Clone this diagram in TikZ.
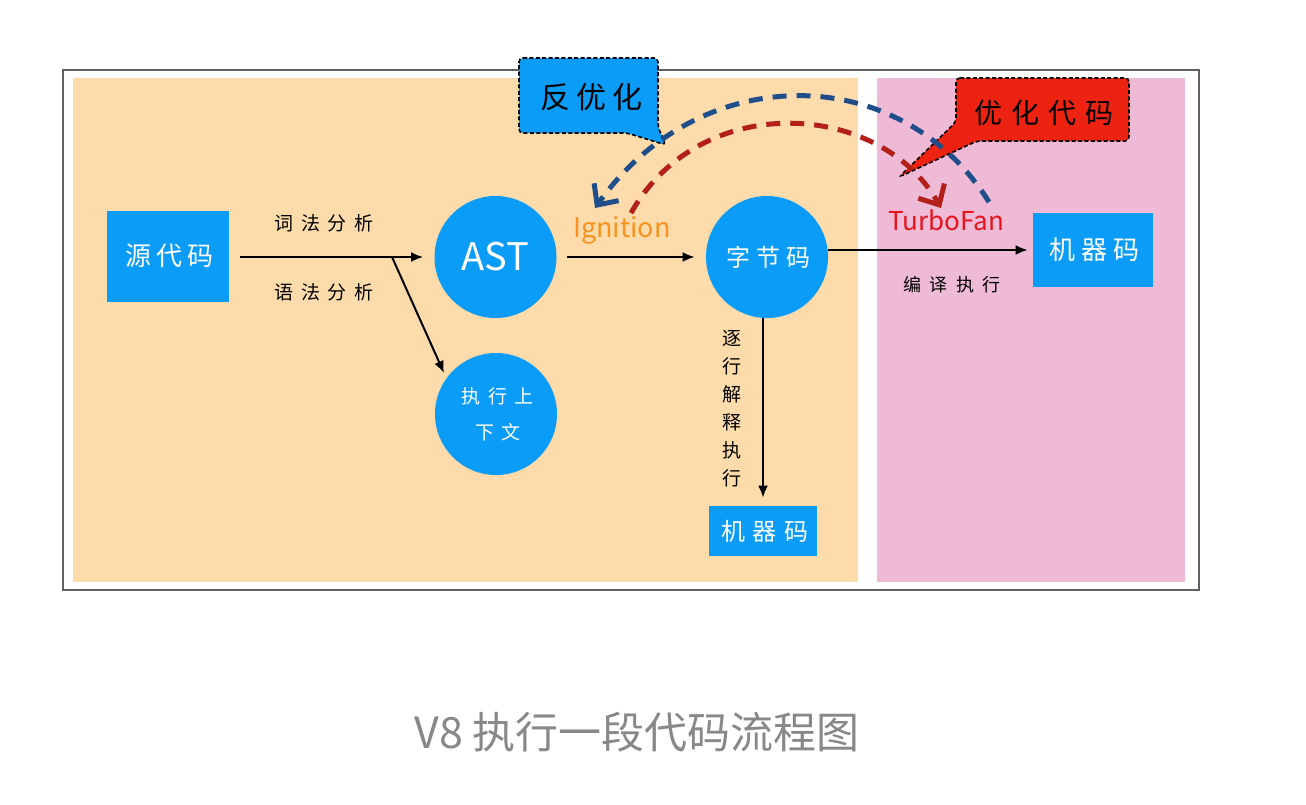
\documentclass[tikz,border=0pt]{standalone}
\usepackage{fontspec}
\setmainfont{Noto Sans CJK SC}
\usetikzlibrary{arrows.meta}
\definecolor{orangebg}{HTML}{FDDBAB}
\definecolor{pinkbg}{HTML}{EEBAD6}
\definecolor{nodeblue}{HTML}{0B9CF7}
\definecolor{ignorange}{HTML}{F7931E}
\definecolor{turbored}{HTML}{E8141C}
\definecolor{calloutred}{HTML}{EE2211}
\definecolor{deoptblue}{HTML}{1F4E8A}
\definecolor{optred}{HTML}{B3201A}
\definecolor{captiongray}{HTML}{888888}
\begin{document}
\begin{tikzpicture}[x=0.5pt,y=-0.5pt,
  boxnode/.style={fill=nodeblue, text=white, inner sep=0pt},
  circnode/.style={circle, fill=nodeblue, text=white, minimum size=61pt, inner sep=0pt, align=center},
  lbl/.style={font=\fontsize{9.5pt}{11pt}\selectfont\addfontfeature{LetterSpace=40}, inner sep=0pt},
  flow/.style={line width=1pt, -{Latex[length=6pt,width=5pt]}},
  curvy/.style={line width=2.5pt, dash pattern=on 7pt off 5pt, -{Straight Barb[length=8pt,width=15pt]}},
  callout/.style={draw=black, line width=0.8pt, dash pattern=on 2pt off 1.2pt, rounded corners=2pt}
]
\useasboundingbox (0,0) rectangle (1306,804);
\fill[white] (0,0) rectangle (1306,804);
% frame and panels
\fill[orangebg] (73,78) rectangle (858,582);
\fill[pinkbg] (877,78) rectangle (1185,582);
\draw[gray!75!black, line width=1pt] (63,70) rectangle (1199,590);

% nodes
\node[boxnode, minimum width=61pt, minimum height=45.5pt,
      font=\fontsize{13pt}{15pt}\selectfont\addfontfeature{LetterSpace=20}] (src) at (168,256) {\hspace{1.3pt}源代码};
\node[circnode, font=\fontsize{19pt}{21pt}\selectfont] (ast) at (495.5,257) {AST};
\node[circnode, font=\fontsize{9.5pt}{18pt}\selectfont\addfontfeature{LetterSpace=40}] (ctx) at (496,414) {\hspace{1.9pt}执行上\\\hspace{1.9pt}下文};
\node[circnode, font=\fontsize{12pt}{14pt}\selectfont\addfontfeature{LetterSpace=25}] (bc) at (767,257) {\hspace{1.5pt}字节码};
\node[boxnode, minimum width=60pt, minimum height=37pt,
      font=\fontsize{13pt}{15pt}\selectfont\addfontfeature{LetterSpace=22}] (mc) at (1093,250) {\hspace{1.4pt}机器码};
\node[boxnode, minimum width=54pt, minimum height=25pt,
      font=\fontsize{12pt}{14pt}\selectfont\addfontfeature{LetterSpace=30}] (mcb) at (763,531) {\hspace{1.8pt}机器码};

% labels
\node[lbl] (l1) at (322,223) {\hspace{1.9pt}词法分析};
\node[lbl] (l2) at (322,292) {\hspace{1.9pt}语法分析};
\node[inner sep=0pt, text=ignorange, font=\fontsize{13.5pt}{15pt}\selectfont] (ign) at (622,230) {Ignition};
\node[inner sep=0pt, text=turbored, font=\fontsize{13pt}{15pt}\selectfont] (tf) at (946,220) {TurboFan};
\node[lbl, font=\fontsize{9pt}{11pt}\selectfont\addfontfeature{LetterSpace=45}] (l3) at (950,285) {\hspace{2pt}编译执行};
\node[inner sep=0pt, align=center, font=\fontsize{9.5pt}{14pt}\selectfont] (l4) at (732,409) {逐\\行\\解\\释\\执\\行};

% connectors
\coordinate (br) at (392,257);
\coordinate (ctxin) at (444,373);
\draw[flow, shorten <=5.5pt, shorten >=5.5pt] (src.east |- ast.west) -- (ast.west);
\draw[flow] (br) -- (ctxin);
\draw[flow, shorten <=5pt, shorten >=5.5pt] (ast.east) -- (bc.west);
\draw[flow, shorten >=2.5pt] ([yshift=3.5pt]bc.east) -- (mc.west);
\draw[flow, shorten >=4pt] (mcb.north |- bc.south) -- (mcb.north);

% callouts
\draw[callout, fill=nodeblue] (519,58) -- (658,58) -- (658,127) -- (666,145) -- (627,133) -- (519,133) -- cycle;
\node[inner sep=0pt, font=\fontsize{15pt}{17pt}\selectfont\addfontfeature{LetterSpace=20}] (deopt) at (590,97) {\hspace{1.5pt}反优化};
\draw[callout, fill=calloutred] (956,78) -- (1129,78) -- (1129,141) -- (977,141) -- (899,177) -- (956,122) -- cycle;
\node[inner sep=0pt, font=\fontsize{14pt}{16pt}\selectfont\addfontfeature{LetterSpace=32}] (opt) at (1042,113) {\hspace{2.2pt}优化代码};

% dashed curves
\coordinate (bs) at (989,202);
\coordinate (be) at (595,208);
\coordinate (rs) at (631,213);
\coordinate (re) at (941,208);
\draw[curvy, deoptblue] (bs) .. controls (900,60) and (700,60) .. (be);
\draw[curvy, optred] (rs) .. controls (700,90) and (880,100) .. (re);

% caption
\node[inner sep=0pt, text=captiongray, font=\fontsize{21.5pt}{24pt}\selectfont] (cap) at (637,732) {V8 执行一段代码流程图};
\end{tikzpicture}
\end{document}
